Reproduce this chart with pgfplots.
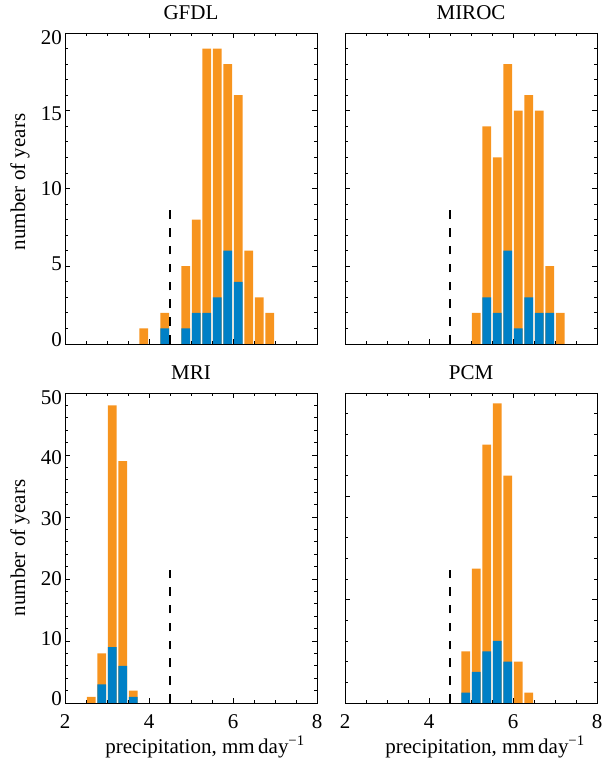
\documentclass[border=0pt]{standalone}
\usepackage{pgfplots}
\pgfplotsset{compat=1.18}
\usepackage{fontspec}
\setmainfont{Liberation Serif}
\definecolor{obar}{RGB}{247,148,30}
\definecolor{bbar}{RGB}{0,128,198}
\pgfplotsset{
  hist/.style={
    scale only axis, width=252bp,
    xmin=2, xmax=8, ymin=0,
    xtick={2,4,6,8}, minor x tick num=3, minor y tick num=4,
    tick align=inside,
    major tick length=5bp, minor tick length=2.7bp,
    every tick/.style={black, line width=0.8bp},
    axis line style={line width=0.9bp},
    axis on top,
    /pgf/number format/assume math mode=true,
    xticklabel style={inner sep=0pt, yshift=-11bp},
    title style={inner sep=0pt, yshift=7bp},
    ylabel style={inner sep=0pt, anchor=south, rotate=0},
    xlabel style={inner sep=0pt},
  },
  ob/.style={ybar, bar width=0.205, bar shift=0pt, fill=obar, draw=none},
  bb/.style={ybar, bar width=0.205, bar shift=0pt, fill=bbar, draw=none},
  dl/.style={black, line width=1.3bp, dash pattern=on 8.7bp off 9.2bp, sharp plot},
}
\begin{document}
\fontsize{21bp}{25bp}\selectfont
\begin{tikzpicture}
\path[use as bounding box] (0,0) rectangle (604bp,760bp);
% GFDL
\begin{axis}[hist, height=311bp, at={(65bp,416bp)}, anchor=south west,
  ymax=20, ytick={0,5,10,15,20}, xticklabels={}, title={GFDL},
  yticklabel style={inner sep=0pt, xshift=-3bp, yshift={4.5bp-9.5bp*\ticknum/4}},
  ylabel={number of years},
  ylabel style={at={(axis description cs:-0.139,0.521)}}]
\addplot[ob] coordinates {(3.875,1) (4.375,2) (4.875,5) (5.125,8) (5.375,19) (5.625,19) (5.875,18) (6.125,16) (6.375,6) (6.625,3) (6.875,2)};
\addplot[bb] coordinates {(4.375,1) (4.875,1) (5.125,2) (5.375,2) (5.625,3) (5.875,6) (6.125,4)};
\addplot[dl] coordinates {(4.5,0) (4.5,8.65)};
\end{axis}
% MIROC
\begin{axis}[hist, height=311bp, at={(345bp,416bp)}, anchor=south west,
  ymax=20, ytick={0,5,10,15,20}, xticklabels={}, yticklabels={}, title={MIROC}]
\addplot[ob] coordinates {(5.125,2) (5.375,14) (5.625,12) (5.875,18) (6.125,15) (6.375,16) (6.625,15) (6.875,5) (7.125,2)};
\addplot[bb] coordinates {(5.375,3) (5.625,2) (5.875,6) (6.125,1) (6.375,3) (6.625,2) (6.875,2)};
\addplot[dl] coordinates {(4.5,0) (4.5,8.65)};
\end{axis}
% MRI
\begin{axis}[hist, height=310bp, at={(65bp,57bp)}, anchor=south west,
  ymax=50, ytick={0,10,20,30,40,50}, title={MRI},
  yticklabel style={inner sep=0pt, xshift=-3bp, yshift={4.5bp-9.5bp*\ticknum/5}},
  ylabel={number of years},
  ylabel style={at={(axis description cs:-0.139,0.5)}},
  xlabel={precipitation, mm\,day\textsuperscript{−1}},
  xlabel style={at={(axis description cs:0.5,0)}, anchor=base, yshift=-50bp, xshift=14bp}]
\addplot[ob] coordinates {(2.625,1) (2.875,8) (3.125,48) (3.375,39) (3.625,2)};
\addplot[bb] coordinates {(2.875,3) (3.125,9) (3.375,6) (3.625,1)};
\addplot[dl] coordinates {(4.5,0) (4.5,21.45)};
\end{axis}
% PCM
\begin{axis}[hist, height=310bp, at={(345bp,57bp)}, anchor=south west,
  ymax=30, ytick={0,10,20,30}, yticklabels={}, title={PCM},
  xlabel={precipitation, mm\,day\textsuperscript{−1}},
  xlabel style={at={(axis description cs:0.5,0)}, anchor=base, yshift=-50bp, xshift=14bp}]
\addplot[ob] coordinates {(4.875,5) (5.125,13) (5.375,25) (5.625,29) (5.875,22) (6.125,4) (6.375,1)};
\addplot[bb] coordinates {(4.875,1) (5.125,3) (5.375,5) (5.625,6) (5.875,4)};
\addplot[dl] coordinates {(4.5,0) (4.5,12.87)};
\end{axis}
\end{tikzpicture}
\end{document}
